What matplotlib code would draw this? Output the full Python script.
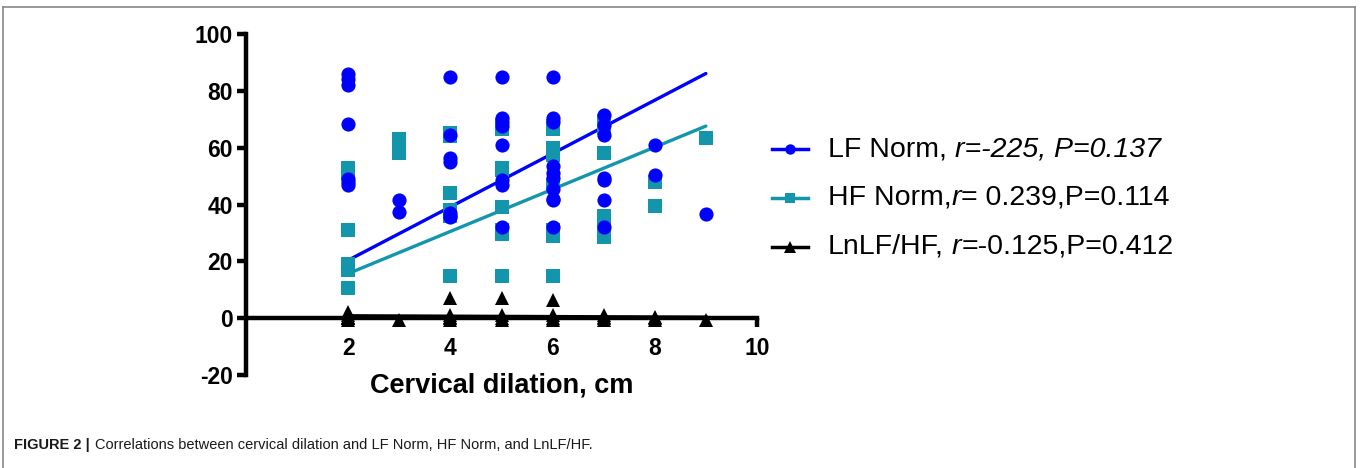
import numpy as np
import matplotlib.pyplot as plt
from matplotlib.lines import Line2D
from matplotlib.offsetbox import TextArea, HPacker, VPacker, DrawingArea, AnchoredOffsetbox

plt.rcParams['font.family'] = ['Liberation Sans', 'DejaVu Sans']
plt.rcParams['axes.unicode_minus'] = False

# cervical dilation (cm) columns and the values read at each column
dilation = [2, 3, 4, 5, 6, 7, 8, 9]
lf_norm = [
    [86, 84, 82, 68.5, 49, 48, 47],
    [41.5, 37.5],
    [85, 64.5, 56.5, 55, 37, 36, 35.5],
    [85, 70.5, 69, 67.5, 61, 48.5, 47, 32],
    [85, 70.5, 69, 53.5, 51, 49.5, 45.5, 42, 41.5, 32],
    [71.5, 68, 64.5, 49.5, 48.5, 41.5, 32],
    [61, 50.5],
    [36.8],
]
hf_norm = [
    [53, 51, 31, 19, 17, 10.5],
    [63, 60, 58],
    [65, 64, 44, 38, 36, 15],
    [68, 66.5, 53, 52, 39, 31, 29.5, 15],
    [67.5, 66.5, 60, 57.5, 47, 31, 29, 15],
    [69.5, 67, 58, 36, 34, 30, 28.5],
    [48, 39.5],
    [63.5],
]
ln_lf_hf = [
    [2, 1, 0, 0, -0.5, 0.5],
    [-0.5],
    [7, 1, 0, -0.5, 0.5],
    [7, 1, 0, -0.5],
    [6.5, 1, 0, -0.5],
    [1, 0.5, 0, -0.5],
    [0.5, 0, -0.5],
    [-0.5],
]

# regression lines (end points)
fit_x = [2, 9]
lf_fit = [20.4, 86.1]
hf_fit = [15.7, 67.6]
ln_fit = [0.8, 0.3]

labels = ['LF Norm', 'HF Norm', 'LnLF/HF']
blue = '#0000ff'
teal = '#1396ab'
black = '#000000'


def expand(series):
    xs = np.repeat(dilation, [len(v) for v in series])
    ys = np.concatenate([np.asarray(v, dtype=float) for v in series])
    return xs, ys


fig = plt.figure(figsize=(13.6, 4.68), dpi=100)
ax = fig.add_axes([0.1809, 0.1987, 0.3757, 0.7286])

ax.plot(fit_x, lf_fit, color=blue, lw=2.4, zorder=3, solid_capstyle='round')
ax.plot(fit_x, hf_fit, color=teal, lw=2.4, zorder=3, solid_capstyle='round')
ax.plot(fit_x, ln_fit, color=black, lw=2.6, zorder=3)

x, y = expand(hf_norm)
ax.plot(x, y, 's', color=teal, ms=9.8, mew=0, zorder=4, clip_on=False)
x, y = expand(lf_norm)
ax.plot(x, y, 'o', color=blue, ms=10.2, mew=0, zorder=5, clip_on=False)
x, y = expand(ln_lf_hf)
ax.plot(x, y, '^', color=black, ms=9.5, mew=0, zorder=6, clip_on=False)

ax.set_xlim(0, 10)
ax.set_ylim(-20, 100)
ax.set_xticks([2, 4, 6, 8, 10])
ax.set_yticks(range(-20, 101, 20))
ax.spines['top'].set_visible(False)
ax.spines['right'].set_visible(False)
ax.spines['bottom'].set_position(('data', 0))
for s in ('left', 'bottom'):
    ax.spines[s].set_linewidth(3.2)
ax.tick_params(direction='out', length=6.5, width=3.2, labelsize=16.5, pad=3)
ax.tick_params(axis='x', pad=7)
for lab in ax.get_xticklabels() + ax.get_yticklabels():
    lab.set_fontweight('bold')
ax.set_xlabel('Cervical dilation, cm', fontsize=19.5, fontweight='bold')
ax.xaxis.set_label_coords(0.5, 0.008)
ax.xaxis.label.set_va('top')


# legend built from pieces so that only parts of the text are italic
def handle(color, marker, ms):
    da = DrawingArea(26, 14, 0, 0)
    da.add_artist(Line2D([0, 26], [7, 7], color=color, lw=2.5))
    da.add_artist(Line2D([13], [7], color=color, marker=marker, ms=ms, lw=0, mew=0))
    return da


def txt(s, italic=False):
    return TextArea(s, textprops=dict(fontsize=20.5, family='Liberation Sans',
                                      style='italic' if italic else 'normal'))


row1 = HPacker(children=[handle(blue, 'o', 7.5),
                         HPacker(children=[txt(labels[0] + ','), txt('r=-225, P=0.137', True)],
                                 sep=6, pad=0, align='baseline')],
               sep=14, pad=0, align='center')
row2 = HPacker(children=[handle(teal, 's', 7.5),
                         HPacker(children=[txt(labels[1] + ','), txt('r', True), txt('= 0.239,P=0.114')],
                                 sep=0, pad=0, align='baseline')],
               sep=14, pad=0, align='center')
row3 = HPacker(children=[handle(black, '^', 8.5),
                         HPacker(children=[txt(labels[2] + ','),
                                           HPacker(children=[txt('r', True), txt('=-0.125,P=0.412')],
                                                   sep=0, pad=0, align='baseline')],
                                 sep=6, pad=0, align='baseline')],
               sep=14, pad=0, align='center')
legend = VPacker(children=[row1, row2, row3], sep=16.5, pad=0, align='left')
box = AnchoredOffsetbox(loc='upper left', child=legend, pad=0, borderpad=0, frameon=False,
                        bbox_to_anchor=(772 / 1360, 1 - 136 / 468),
                        bbox_transform=fig.transFigure)
fig.add_artist(box)

# caption: bold figure number, then the plain text right after it
cap_font = ['Liberation Sans', 'DejaVu Sans']
cap_y = 1 - 445 / 468
head = fig.text(14 / 1360, cap_y, 'FIGURE 2 |', fontsize=10.5, fontweight='bold',
                family=cap_font, color='#1a1a1a', va='center')
fig.canvas.draw()
head_end = head.get_window_extent().x1 / fig.bbox.width
fig.text(head_end + 5 / 1360, cap_y,
         'Correlations between cervical dilation and LF Norm, HF Norm, and LnLF/HF.',
         fontsize=10.5, family=cap_font, color='#1a1a1a', va='center')

# gray frame around the figure panel
fx0, fx1, fy1 = 3 / 1360, 1355 / 1360, 1 - 7 / 468
frame_kw = dict(color='#888888', lw=1.2, transform=fig.transFigure)
fig.add_artist(Line2D([fx0, fx0], [0, fy1], **frame_kw))
fig.add_artist(Line2D([fx0, fx1], [fy1, fy1], **frame_kw))
fig.add_artist(Line2D([fx1, fx1], [0, fy1], **frame_kw))

fig.savefig('out.png', dpi=100)
